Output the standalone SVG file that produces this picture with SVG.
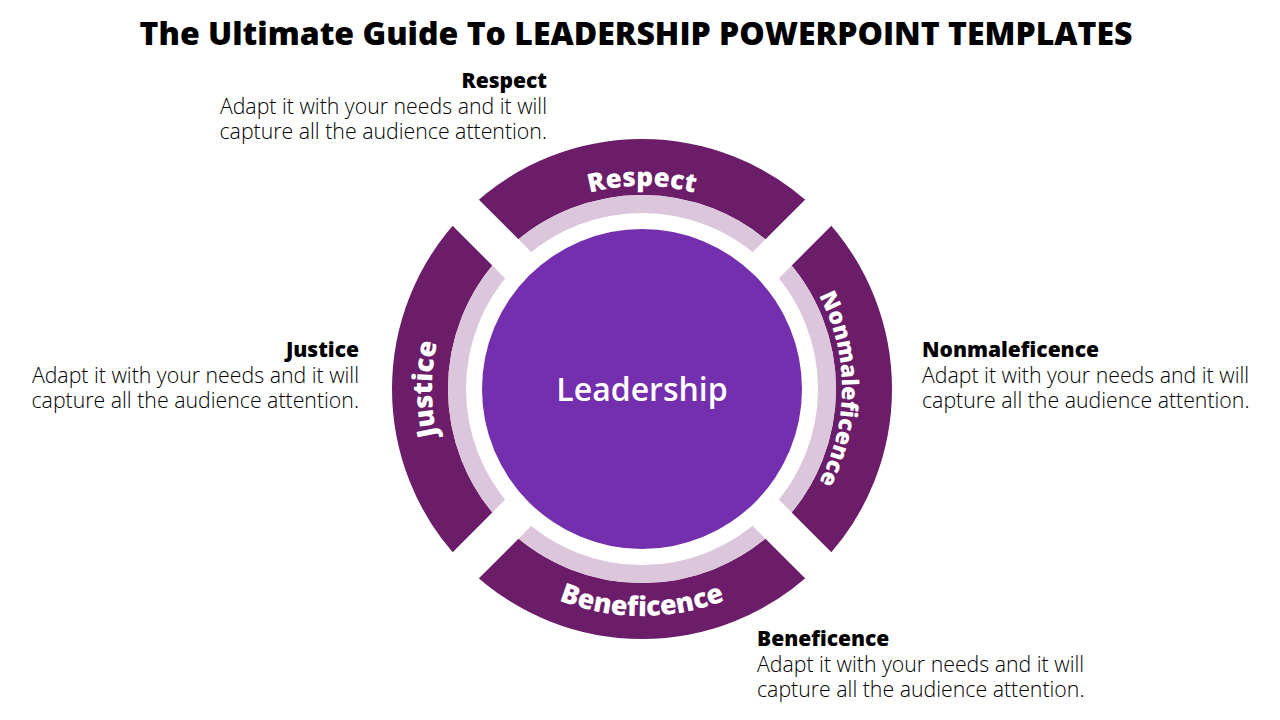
<svg xmlns="http://www.w3.org/2000/svg" width="1280" height="720" viewBox="0 0 1280 720">
<defs>
<style>
.title{font-family:"Open Sans","Liberation Sans",sans-serif;font-weight:800;font-size:32px;fill:#000}
.hd{font-family:"Open Sans","Liberation Sans",sans-serif;font-weight:800;font-size:21px;fill:#000}
.bd{font-family:"Open Sans","Liberation Sans",sans-serif;font-weight:300;font-size:21.3px;fill:#000}
.seg{font-family:"Open Sans","Liberation Sans",sans-serif;font-weight:800;font-size:27px;fill:#fff}
.ctr{font-family:"Open Sans","Liberation Sans",sans-serif;font-weight:600;font-size:32px;fill:#fff}
</style>
<path id="pRespect" d="M466.2,287.5 A203,203 0 0 1 817.8,287.5"/>
<path id="pNon" d="M742,215.8 A200,200 0 0 1 742,562.2"/>
<path id="pJust" d="M537,570.9 A210,210 0 0 1 537,207.1"/>
<path id="pBene" d="M445.4,502.5 A227,227 0 0 0 838.6,502.5"/>
</defs>
<rect width="1280" height="720" fill="#fff"/>
<text class="title" x="636" y="45" text-anchor="middle">The Ultimate Guide To LEADERSHIP POWERPOINT TEMPLATES</text>
<g id="ring">
<circle cx="642" cy="389" r="222" fill="none" stroke="#6B1D69" stroke-width="56"/>
<circle cx="642" cy="389" r="185" fill="none" stroke="#DCC6DC" stroke-width="18"/>
<line x1="362" y1="109" x2="922" y2="669" stroke="#fff" stroke-width="37"/>
<line x1="922" y1="109" x2="362" y2="669" stroke="#fff" stroke-width="37"/>
</g>
<g id="center">
<circle cx="642" cy="389" r="160" fill="#742FAE"/>
<text class="ctr" x="642" y="401" text-anchor="middle">Leadership</text>
</g>
<g id="seg-respect"><text class="seg" style="font-size:26px"><textPath href="#pRespect" startOffset="50%" text-anchor="middle">Respect</textPath></text></g>
<g id="seg-non"><text class="seg" style="font-size:23px"><textPath href="#pNon" startOffset="50%" text-anchor="middle">Nonmaleficence</textPath></text></g>
<g id="seg-justice"><text class="seg"><textPath href="#pJust" startOffset="50%" text-anchor="middle">Justice</textPath></text></g>
<g id="seg-bene"><text class="seg"><textPath href="#pBene" startOffset="50%" text-anchor="middle">Beneficence</textPath></text></g>
<g id="desc-respect" text-anchor="end">
<text class="hd" x="547" y="88">Respect</text>
<text class="bd" x="547" y="114">Adapt it with your needs and it will</text>
<text class="bd" x="547" y="139">capture all the audience attention.</text>
</g>
<g id="desc-justice" text-anchor="end">
<text class="hd" x="359" y="357">Justice</text>
<text class="bd" x="359" y="383">Adapt it with your needs and it will</text>
<text class="bd" x="359" y="408">capture all the audience attention.</text>
</g>
<g id="desc-non">
<text class="hd" x="922" y="357">Nonmaleficence</text>
<text class="bd" x="922" y="383">Adapt it with your needs and it will</text>
<text class="bd" x="922" y="408">capture all the audience attention.</text>
</g>
<g id="desc-bene">
<text class="hd" x="757" y="646">Beneficence</text>
<text class="bd" x="757" y="672">Adapt it with your needs and it will</text>
<text class="bd" x="757" y="697">capture all the audience attention.</text>
</g>
</svg>
